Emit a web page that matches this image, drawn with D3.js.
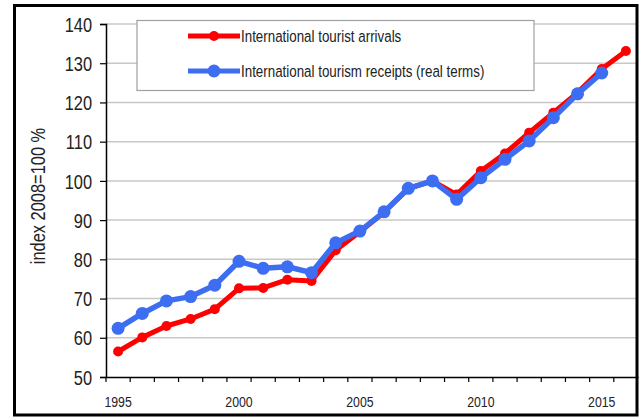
<!DOCTYPE html>
<html><head><meta charset="utf-8">
<script src="https://cdn.jsdelivr.net/npm/d3@7"></script>
<style>
html,body{margin:0;padding:0;background:#fff;}
svg{display:block;}
text{font-family:"Liberation Sans Narrow","Arial Narrow","Liberation Sans",Arial,sans-serif;fill:#222;}
</style></head>
<body>
<svg id="c" width="644" height="417"></svg>
<script>
const years = [1995,1996,1997,1998,1999,2000,2001,2002,2003,2004,2005,2006,2007,2008,2009,2010,2011,2012,2013,2014,2015,2016];
const arrivals = [56.5,60.1,63.0,64.8,67.3,72.6,72.7,74.8,74.5,82.3,87.0,92.0,98.0,100,96.5,102.5,107.0,112.3,117.4,122.5,128.5,133.1];
const receipts = [62.4,66.2,69.4,70.5,73.4,79.5,77.7,78.1,76.6,84.2,87.2,92.1,98.1,100,95.3,100.8,105.5,110.2,116.1,122.2,127.5,null];
const yTicks = [50,60,70,80,90,100,110,120,130,140];
const xLabels = [1995,2000,2005,2010,2015];
const seriesNames = ["International tourist arrivals","International tourism receipts (real terms)"];
const colors = ["#ff0000","#3d6ef2"];

const svg = d3.select("#c");
const pL = 106, pR = 638, pT = 24, pB = 377;
const x = d3.scaleBand().domain(years).range([pL,pR]).paddingInner(0).paddingOuter(0);
const y = d3.scaleLinear().domain([50,140]).range([pB,pT]);

// condense text to emulate a narrow face if none is installed
function narrow(sel){
  sel.each(function(){
    const fam = getComputedStyle(this).fontFamily;
    const w = this.getComputedTextLength();
    if (document.fonts && document.fonts.check && document.fonts.check("12px 'Liberation Sans Narrow'")) {
      // narrow font present: nothing to do
    }
    d3.select(this).attr("textLength", w*0.82).attr("lengthAdjust","spacingAndGlyphs");
  });
}

// gridlines
svg.append("g").selectAll("line").data(yTicks.filter(d=>d>50)).join("line")
  .attr("x1",pL).attr("x2",pR).attr("y1",d=>y(d)).attr("y2",d=>y(d))
  .attr("stroke","#c8c8c8").attr("stroke-width",1.5);

// y axis
const ya = svg.append("g").attr("transform",`translate(${pL},0)`)
  .call(d3.axisLeft(y).tickValues(yTicks).tickSize(6).tickPadding(8));
ya.select(".domain").attr("stroke","#000").attr("stroke-width",1.5);
ya.selectAll(".tick line").attr("stroke","#000").attr("stroke-width",1.2);
ya.selectAll("text").attr("font-size",20).attr("font-family",null).style("fill","#222").attr("dy","0.36em");

// x axis
const xa = svg.append("g").attr("transform",`translate(0,${pB})`)
  .call(d3.axisBottom(x).tickValues(years).tickSize(0).tickPadding(19).tickFormat(d=>xLabels.includes(d)?d:""));
xa.select(".domain").attr("stroke","#000").attr("stroke-width",1.5);
xa.selectAll("text").attr("font-size",15).attr("font-family",null).style("fill","#222");
// ticks between categories
svg.append("g").selectAll("line").data(years).join("line")
  .attr("x1",d=>x(d)).attr("x2",d=>x(d)).attr("y1",pB).attr("y2",pB+5)
  .attr("stroke","#000").attr("stroke-width",1.2);

// y label
const yl = svg.append("text").attr("transform",`translate(45,196) rotate(-90)`)
  .attr("text-anchor","middle").attr("font-size",20).text("index 2008=100 %");

// series
const cx = d => x(d)+x.bandwidth()/2;
const datasets = [arrivals, receipts];
const radii = [5, 6.5];
const widths = [5, 5.5];
datasets.forEach((vals,i)=>{
  const pts = years.map((yr,j)=>({yr,v:vals[j]})).filter(p=>p.v!=null);
  const line = d3.line().x(p=>cx(p.yr)).y(p=>y(p.v));
  svg.append("path").datum(pts).attr("d",line).attr("fill","none")
    .attr("stroke",colors[i]).attr("stroke-width",widths[i]).attr("stroke-linejoin","round");
  svg.append("g").selectAll("circle").data(pts).join("circle")
    .attr("cx",p=>cx(p.yr)).attr("cy",p=>y(p.v)).attr("r",radii[i]).attr("fill",colors[i]);
});

// legend
const lg = svg.append("g");
lg.append("rect").attr("x",137).attr("y",20.5).attr("width",397).attr("height",70)
  .attr("fill","#fff").attr("stroke","#a0a0a0").attr("stroke-width",1.2);
const legendY = [36,71];
seriesNames.forEach((n,i)=>{
  lg.append("line").attr("x1",188).attr("x2",240).attr("y1",legendY[i]).attr("y2",legendY[i])
    .attr("stroke",colors[i]).attr("stroke-width",5);
  lg.append("circle").attr("cx",214).attr("cy",legendY[i]).attr("r",radii[i]).attr("fill",colors[i]);
  lg.append("text").attr("x",241).attr("y",legendY[i]).attr("dy","0.36em").attr("font-size",16.3).text(n);
});

narrow(svg.selectAll("text"));

// frame
svg.append("rect").attr("x",14.5).attr("y",5.5).attr("width",622.5).attr("height",409.5)
  .attr("fill","none").attr("stroke","#000").attr("stroke-width",3);
</script>
</body></html>
